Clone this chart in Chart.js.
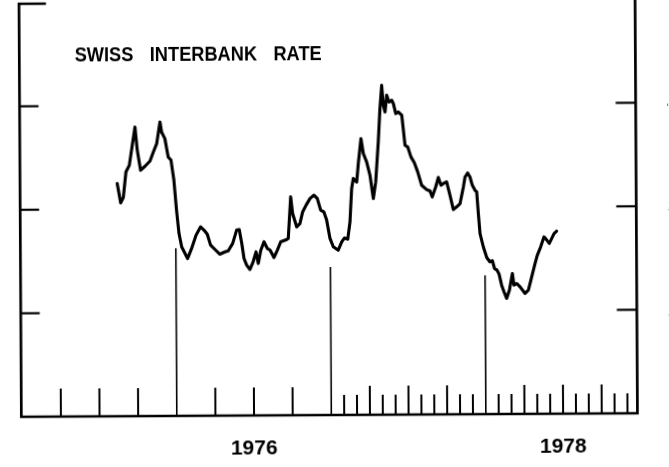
<!DOCTYPE html>
<html><head><meta charset="utf-8">
<script src="https://cdn.jsdelivr.net/npm/chart.js@4.4.1/dist/chart.umd.min.js"></script>
<style>
html,body{margin:0;padding:0;background:#fff;overflow:hidden;}
#wrap{width:669px;height:467px;transform:rotate(-0.33deg);transform-origin:50% 50%;}
canvas{display:block;}
</style></head><body>
<div id="wrap"><canvas id="c" width="669" height="467"></canvas></div>
<script>
const chartTitle = "SWISS INTERBANK RATE";
const dates = [
1975.623,1975.645,1975.662,1975.680,1975.702,1975.720,1975.740,1975.754,1975.775,1975.803,
1975.836,1975.858,1975.880,1975.902,1975.912,1975.933,1975.954,1975.972,1975.990,1976.006,
1976.021,1976.038,1976.076,1976.102,1976.131,1976.161,1976.184,1976.204,1976.225,1976.253,
1976.285,1976.318,1976.339,1976.368,1976.394,1976.411,1976.427,1976.441,1976.458,1976.479,
1976.500,1976.519,1976.533,1976.550,1976.571,1976.592,1976.610,1976.635,1976.657,1976.679,
1976.718,1976.728,1976.745,1976.757,1976.783,1976.804,1976.822,1976.844,1976.870,1976.896,
1976.917,1976.939,1976.959,1976.977,1976.998,1977.019,1977.051,1977.074,1977.091,1977.113,
1977.128,1977.140,1977.151,1977.173,1977.184,1977.202,1977.217,1977.238,1977.259,1977.280,
1977.296,1977.314,1977.326,1977.338,1977.348,1977.359,1977.370,1977.385,1977.403,1977.413,
1977.428,1977.445,1977.467,1977.487,1977.504,1977.525,1977.546,1977.568,1977.593,1977.625,
1977.647,1977.661,1977.684,1977.701,1977.718,1977.740,1977.755,1977.776,1977.797,1977.819,
1977.841,1977.863,1977.874,1977.891,1977.906,1977.921,1977.938,1977.949,1977.959,1977.969,
1977.990,1978.012,1978.032,1978.048,1978.062,1978.078,1978.091,1978.107,1978.122,1978.139,
1978.157,1978.177,1978.187,1978.205,1978.226,1978.258,1978.280,1978.302,1978.324,1978.339,
1978.361,1978.383,1978.401,1978.417,1978.433,1978.448,1978.465];
const rates = [
3.248,3.061,3.113,3.360,3.424,3.600,3.793,3.569,3.375,3.413,
3.464,3.551,3.632,3.841,3.744,3.680,3.502,3.470,3.277,2.987,
2.763,2.633,2.520,2.617,2.745,2.825,2.792,2.754,2.648,2.606,
2.560,2.582,2.592,2.663,2.791,2.797,2.662,2.517,2.453,2.411,
2.485,2.581,2.468,2.597,2.677,2.613,2.597,2.525,2.596,2.676,
2.698,2.708,3.110,2.949,2.819,2.852,2.964,3.028,3.093,3.125,
3.093,2.980,2.963,2.883,2.706,2.626,2.592,2.672,2.710,2.698,
2.865,3.187,3.284,3.250,3.428,3.669,3.524,3.443,3.315,3.090,
3.250,3.636,3.958,4.182,3.989,3.925,4.086,4.021,4.038,4.006,
3.909,3.924,3.892,3.602,3.586,3.489,3.434,3.344,3.215,3.173,
3.159,3.101,3.198,3.289,3.214,3.236,3.246,3.117,2.979,3.004,
3.036,3.196,3.292,3.331,3.292,3.212,3.164,3.148,2.939,2.745,
2.616,2.512,2.471,2.482,2.406,2.390,2.351,2.245,2.181,2.117,
2.196,2.358,2.245,2.261,2.228,2.164,2.196,2.324,2.453,2.533,
2.613,2.709,2.678,2.646,2.694,2.741,2.764];
const yearLabels = ["1976", "1978"];
const yearLabelPositions = [1976.5, 1978.5];
const yearMarks = [1976, 1977, 1978];
const yearMarkTops = [2.62, 2.43, 2.34];
const yTickValues = [2, 3, 4];
const rightLabels = ["4", "3", "2"];
const quarterlyYears = [1975, 1976];
const monthlyYears = [1977, 1978];
const xMin = 1974.994, xMax = 1978.981, yMin = 1, yMax = 5;

const framePlugin = {
  id: 'frame',
  beforeDatasetsDraw(chart) {
    const ctx = chart.ctx, xs = chart.scales.x, ys = chart.scales.y;
    const X = v => xs.getPixelForValue(v), Y = v => ys.getPixelForValue(v);
    const L = X(xMin), R = X(xMax), B = Y(yMin), T = Y(yMax);
    ctx.save();
    ctx.strokeStyle = '#000';
    ctx.lineCap = 'butt';
    // axes
    ctx.lineWidth = 2.7;
    ctx.beginPath();
    ctx.moveTo(L + 27, T + 1); ctx.lineTo(L, T + 1); ctx.lineTo(L, B); ctx.lineTo(R, B); ctx.lineTo(R, -6);
    ctx.stroke();
    // y ticks, left (inward) and right (inward)
    ctx.lineWidth = 2.2;
    yTickValues.forEach(v => {
      ctx.beginPath(); ctx.moveTo(L, Y(v)); ctx.lineTo(L + 19, Y(v)); ctx.stroke();
      ctx.beginPath(); ctx.moveTo(R - 20, Y(v)); ctx.lineTo(R, Y(v)); ctx.stroke();
    });
    // x ticks
    ctx.lineWidth = 2;
    quarterlyYears.forEach(yr => {
      for (let q = 1; q < 4; q++) {
        const x = X(yr + q / 4);
        ctx.beginPath(); ctx.moveTo(x, B); ctx.lineTo(x, B - 28); ctx.stroke();
      }
    });
    monthlyYears.forEach(yr => {
      for (let m = 1; m < 12; m++) {
        const x = X(yr + m / 12);
        const h = (m % 3 === 0) ? 29 : 20;
        ctx.beginPath(); ctx.moveTo(x, B); ctx.lineTo(x, B - h); ctx.stroke();
      }
    });
    // year separators
    ctx.lineWidth = 1.6;
    yearMarks.forEach((yr, i) => {
      const x = X(yr);
      ctx.beginPath(); ctx.moveTo(x, B); ctx.lineTo(x, Y(yearMarkTops[i])); ctx.stroke();
    });
    // title: condensed bold caps with wide word gaps
    ctx.fillStyle = '#000';
    ctx.font = 'bold 21px "Liberation Sans", Arial, sans-serif';
    ctx.textBaseline = 'alphabetic';
    ctx.textAlign = 'left';
    try { ctx.wordSpacing = '13px'; } catch (e) {}
    const w = ctx.measureText(chartTitle).width;
    ctx.save();
    ctx.translate(L + 55.4, 59.6);
    ctx.scale(247 / w, 1);
    ctx.fillText(chartTitle, 0, 0);
    ctx.restore();
    try { ctx.wordSpacing = '0px'; } catch (e) {}
    // right-hand labels (cut off by the page edge)
    ctx.textBaseline = 'middle';
    yTickValues.slice().reverse().forEach((v, i) => {
      ctx.fillText(rightLabels[i], R + 31.5, Y(v) + 1);
    });
    ctx.restore();
  }
};

new Chart(document.getElementById('c'), {
  type: 'line',
  data: {
    datasets: [{
      data: dates.map((d, i) => ({x: d, y: rates[i]})),
      borderColor: '#000',
      borderWidth: 3.1,
      pointRadius: 0,
      tension: 0,
      fill: false,
      borderJoinStyle: 'round',
      borderCapStyle: 'round'
    }]
  },
  options: {
    responsive: false,
    animation: false,
    events: [],
    layout: {padding: {left: 20.3, right: 32.6, top: 1, bottom: 0}},
    plugins: {legend: {display: false}, tooltip: {enabled: false}, title: {display: false}},
    scales: {
      x: {
        type: 'linear', min: xMin, max: xMax,
        grid: {display: false, drawTicks: false},
        border: {display: false},
        afterBuildTicks: s => { s.ticks = yearLabelPositions.map(v => ({value: v})); },
        afterFit: s => { s.height = 52; },
        ticks: {
          autoSkip: false, maxRotation: 0, padding: 21, color: '#000',
          font: {family: '"Liberation Sans", Arial, sans-serif', size: 21, weight: 'bold'},
          callback: (v, i) => yearLabels[i]
        }
      },
      y: {
        type: 'linear', min: yMin, max: yMax, display: false
      }
    }
  },
  plugins: [framePlugin]
});
</script>
</body></html>
